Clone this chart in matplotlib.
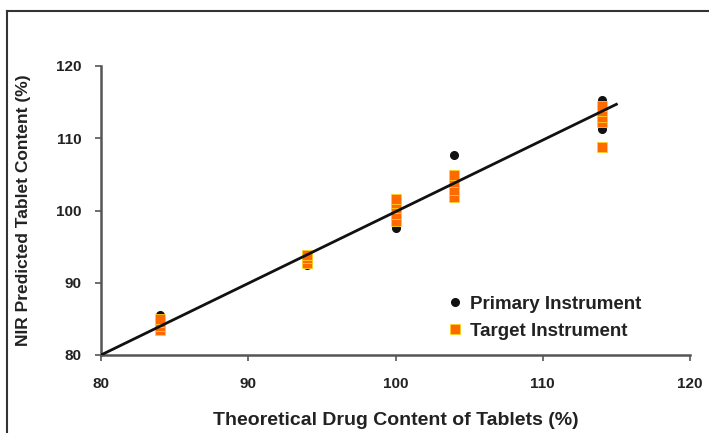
import matplotlib
matplotlib.use("Agg")
import matplotlib.pyplot as plt
from matplotlib.lines import Line2D

plt.rcParams['font.family'] = ['Liberation Sans', 'DejaVu Sans']

primary_x = [84, 84, 94, 100, 100, 104, 104, 114, 114, 114]
primary_y = [85.5, 83.6, 92.4, 97.6, 99.0, 107.7, 103.0, 115.3, 111.3, 113.5]
target_x = [84, 84, 84, 84, 94, 94, 94, 100, 100, 100, 100, 100, 104, 104, 104, 104, 114, 114, 114, 114, 114]
target_y = [83.4, 84.0, 84.6, 85.0, 92.8, 93.4, 93.9, 98.6, 99.5, 100.3, 101.0, 101.6, 101.8, 102.9, 104.0, 104.9, 112.2, 113.0, 113.8, 114.5, 108.8]
fit_x = [80, 115]
fit_y = [80, 114.7]

x_ticks = [80, 90, 100, 110, 120]
y_ticks = [80, 90, 100, 110, 120]
x_label = "Theoretical Drug Content of Tablets (%)"
y_label = "NIR Predicted Tablet Content (%)"
legend_labels = ["Primary Instrument", "Target Instrument"]

fig = plt.figure(figsize=(7.09, 4.33), dpi=100)
ax = fig.add_axes([101/709, 1-355/433, (690-101)/709, (355-66)/433])

ax.plot(primary_x, primary_y, linestyle='none', marker='o', markersize=5.5,
        color='#111111', label=legend_labels[0], zorder=3)
ax.plot(target_x, target_y, linestyle='none', marker='s', markersize=7,
        markerfacecolor='#FF6A00', markeredgecolor='#FFD21A', markeredgewidth=0.6,
        label=legend_labels[1], zorder=4)
ax.plot(fit_x, fit_y, color='#111111', linewidth=2.0, zorder=5)

ax.set_xlim(80, 120)
ax.set_ylim(80, 120)
ax.set_xticks(x_ticks)
ax.set_yticks(y_ticks)
for s in ['top', 'right']:
    ax.spines[s].set_visible(False)
for s in ['left', 'bottom']:
    ax.spines[s].set_color('#555555')
    ax.spines[s].set_linewidth(1.8)
ax.tick_params(axis='x', direction='out', length=4, width=1.2, color='#555555',
               labelsize=11, pad=12)
ax.tick_params(axis='y', direction='out', length=4, width=1.2, color='#555555',
               labelsize=11, pad=10)
for lab in ax.get_xticklabels() + ax.get_yticklabels():
    lab.set_fontweight('bold')
    lab.set_color('#222222')

ax.set_xlabel(x_label, fontsize=14, fontweight='bold', color='#222222', labelpad=15)
ax.set_ylabel(y_label, fontsize=12.5, fontweight='bold', color='#222222', labelpad=18)

leg = ax.legend(loc='upper left', bbox_to_anchor=(0.579, 0.232), frameon=False,
                handlelength=0.6, handletextpad=0.5, labelspacing=0.55,
                borderaxespad=0.0, prop={'weight': 'bold', 'size': 13.5})
for t in leg.get_texts():
    t.set_color('#222222')

# frame lines (top and left border of the figure image)
fig.add_artist(Line2D([7/709, 1], [1-11/433, 1-11/433], color='#333333', linewidth=1.5,
                      transform=fig.transFigure))
fig.add_artist(Line2D([7/709, 7/709], [0, 1-11/433], color='#333333', linewidth=1.5,
                      transform=fig.transFigure))

fig.savefig("out.png", dpi=100)
